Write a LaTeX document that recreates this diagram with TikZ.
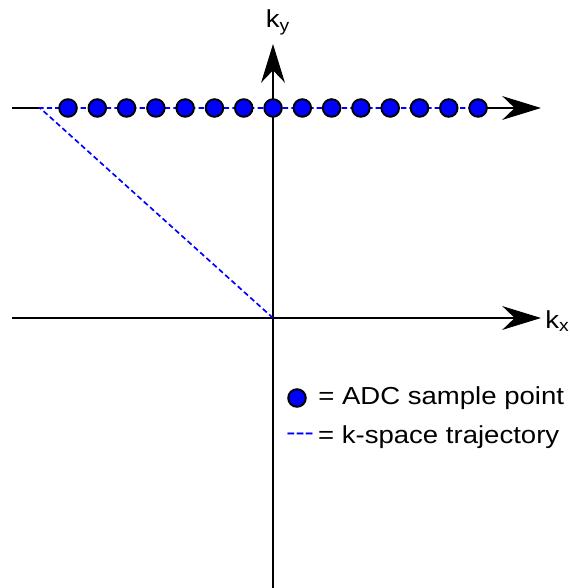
\documentclass[tikz,border=0pt]{standalone}
\usepackage{xcolor}
\usepackage{fontspec}
\usepackage{tikz}
\usetikzlibrary{arrows.meta, positioning, calc}
\newfontfamily\labelfont[FakeStretch=1.12]{Liberation Sans}

\begin{document}
\begin{tikzpicture}[
  x=0.02cm, y=0.02cm,
  axis/.style={line width=1.1pt, -{Stealth[length=22pt, width=13.5pt, inset=7pt]}},
  plain/.style={line width=1.1pt},
  traj/.style={draw=blue, line width=0.95pt, dash pattern=on 3pt off 1.8pt},
  sample/.style={circle, draw, fill=blue, line width=1.1pt, minimum size=10pt, inner sep=0pt},
  lbl/.style={font=\labelfont\fontsize{14}{16}\selectfont, inner sep=0pt},
]
\useasboundingbox (0,0) rectangle (571,588);

% Axes
\coordinate (origin) at (273,270);
\coordinate (xstart) at (12,270);
\coordinate (xend) at (541,270);
\coordinate (ystart) at (273,0);
\coordinate (yend) at (273,544);
\draw[axis] (xstart) -- (xend);
\draw[axis] (ystart) -- (yend);
\node[lbl, anchor=west] (kx) at (545,267) {k\textsubscript{x}};
\node[lbl] (ky) at (278,566) {k\textsubscript{y}};

% Readout line
\coordinate (lstart) at (12,480);
\coordinate (kstart) at (40,480);
\coordinate (lend) at (541,480);
\coordinate (klast) at (478,480);
\draw[plain] (lstart) -- (kstart);
\draw[traj] (origin) -- (kstart) -- (klast);
\draw[axis] (klast) -- (lend);

% ADC samples
\foreach \i in {0,...,14}
  \node[sample] (s\i) at ({68+29.29*\i},480) {};

% Legend
\node[sample] (legdot) at (297,190) {};
\node[lbl, anchor=west] (legtext1) at (318,190) {= ADC sample point};
\node[lbl, anchor=west, text=blue] (legdash) at (286,151) {-{}-{}-};
\node[lbl, anchor=west, right=2pt of legdash] (legtext2) {= k-space trajectory};

\end{tikzpicture}
\end{document}
